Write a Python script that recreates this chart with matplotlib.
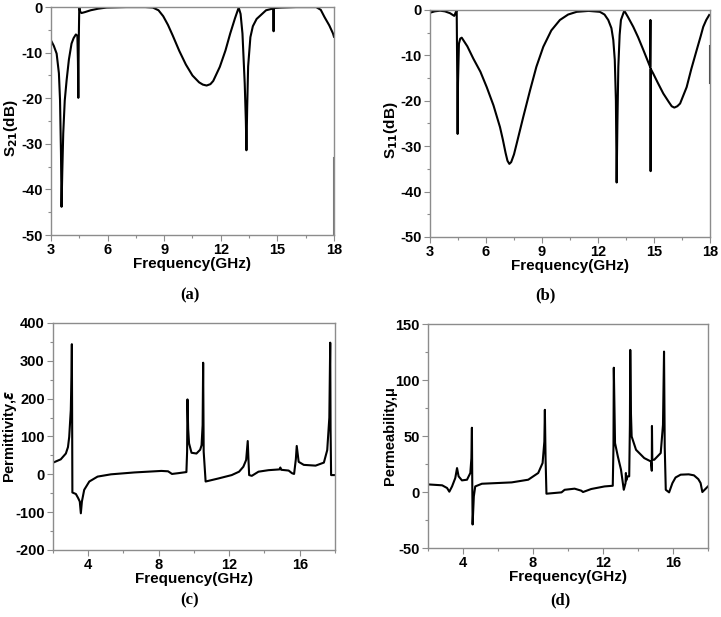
import matplotlib
matplotlib.use("Agg")
import matplotlib.pyplot as plt
from matplotlib.ticker import MultipleLocator

plt.rcParams["font.family"] = ["Liberation Sans", "DejaVu Sans"]
plt.rcParams["font.weight"] = "bold"
plt.rcParams["axes.unicode_minus"] = False

# (a) S21 transmission
a_freq = [3.0, 3.15, 3.3, 3.42, 3.48, 3.53, 3.56, 3.6, 3.65, 3.73, 3.83, 3.95, 4.09, 4.2, 4.32, 4.4,
          4.43, 4.45, 4.47, 4.5, 4.55, 4.62, 4.8, 5.1, 5.5, 5.95, 7.0, 8.0, 8.4, 8.7, 8.95, 9.2, 9.45, 9.8,
          10.15, 10.5, 10.85, 11.05, 11.25, 11.45, 11.6, 11.95, 12.25, 12.5, 12.75, 12.95, 13.05, 13.15,
          13.27, 13.33, 13.36, 13.4, 13.45, 13.57, 13.7, 13.9, 14.4, 14.78, 14.8, 14.82, 15.2, 16.0,
          17.06, 17.3, 17.5, 17.75, 17.95, 18.0]
a_s21 = [-7.3, -8.5, -10.2, -14.5, -20.4, -32.0, -43.8, -36.0, -27.7, -20.5, -16.0, -11.5, -8.0, -6.8,
         -6.0, -6.3, -12.0, -19.9, -8.0, 0.0, -1.0, -1.3, -1.1, -0.7, -0.35, -0.1, 0.0, 0.0, -0.1,
         -0.7, -2.0, -3.9, -6.2, -9.6, -12.6, -15.0, -16.5, -17.0, -17.2, -16.9, -16.2, -13.1, -9.5,
         -5.8, -2.5, -0.1, -1.5, -5.8, -16.8, -25.0, -31.4, -22.0, -13.0, -6.6, -4.2, -2.6, -0.7,
         -0.3, -5.3, -0.2, -0.1, 0.0, 0.0, -0.6, -2.2, -4.0, -5.8, -6.5]
a_edge_freq = [18.0, 18.0]
a_edge_val = [-33.0, -50.0]

# (b) S11 reflection
b_freq = [3.0, 3.25, 3.54, 3.8, 4.07, 4.3, 4.39, 4.43, 4.46, 4.48, 4.5, 4.55, 4.62, 4.7, 5.0, 5.32,
          5.7, 6.04, 6.4, 6.75, 6.9, 7.05, 7.15, 7.25, 7.35, 7.5, 7.64, 8.0, 8.36, 8.7, 9.07, 9.5,
          9.96, 10.4, 10.86, 11.5, 12.1, 12.35, 12.55, 12.72, 12.82, 12.9, 12.96, 13.0, 13.04, 13.09,
          13.16, 13.23, 13.41, 13.6, 13.89, 14.15, 14.43, 14.79, 14.81, 14.82, 14.83, 14.96, 15.2,
          15.5, 15.8, 15.95, 16.09, 16.25, 16.4, 16.75, 17.0, 17.29, 17.5, 17.64, 17.8, 17.96]
b_s11 = [-0.6, -0.3, -0.15, -0.3, -0.7, -1.3, -0.4, 0.0, -15.0, -27.3, -16.0, -7.4, -6.3, -6.1, -8.0,
         -10.7, -13.6, -17.0, -21.0, -25.8, -28.5, -31.5, -33.2, -33.9, -33.5, -31.8, -29.5, -23.5,
         -17.7, -12.5, -8.1, -4.5, -2.2, -1.0, -0.4, -0.2, -0.4, -1.0, -2.2, -4.0, -6.6, -11.0,
         -19.9, -38.0, -25.0, -12.5, -5.5, -2.2, -0.15, -1.5, -3.7, -6.0, -8.8, -12.5, -2.2, -35.5,
         -13.0, -14.0, -16.0, -18.4, -20.3, -21.2, -21.5, -21.2, -20.6, -17.0, -13.0, -8.8, -5.8,
         -3.7, -2.2, -1.1]
b_edge_freq = [18.0, 18.0]
b_edge_val = [-8.0, -16.0]

# (c) effective permittivity
c_freq = [2.0, 2.44, 2.73, 2.85, 2.92, 3.01, 3.05, 3.07, 3.09, 3.1, 3.3, 3.43, 3.52, 3.58, 3.64,
          3.77, 4.06, 4.53, 5.29, 6.62, 8.15, 8.53, 8.75, 9.1, 9.57, 9.61, 9.63, 9.67, 9.72, 9.86,
          10.14, 10.35, 10.43, 10.49, 10.52, 10.55, 10.66, 11.38, 12.14, 12.56, 12.8, 12.96, 13.05,
          13.09, 13.13, 13.28, 13.66, 14.23, 14.85, 14.9, 14.95, 15.37, 15.56, 15.68, 15.78, 15.83,
          15.94, 16.23, 16.9, 17.37, 17.56, 17.68, 17.73, 17.75, 17.78, 18.0]
c_eps = [30.8, 39.6, 55.0, 72.0, 99.0, 170.0, 260.0, 344.0, 100.0, -48.0, -52.0, -63.0, -72.0, -103.0,
         -72.0, -41.0, -19.0, -6.0, 0.0, 5.0, 9.0, 8.0, 1.0, 3.0, 6.0, 60.0, 198.0, 120.0, 82.0,
         57.0, 55.0, 65.0, 77.0, 130.0, 295.0, 60.0, -19.0, -11.0, -2.0, 7.0, 20.0, 38.0, 88.0, 40.0,
         -2.0, -4.0, 7.0, 11.0, 13.0, 18.0, 12.0, 10.0, 3.0, 1.0, 40.0, 75.0, 33.0, 25.0, 23.0,
         31.0, 64.0, 150.0, 348.0, 120.0, -2.0, -2.0]

# (d) effective permeability
d_freq = [2.0, 2.81, 3.09, 3.22, 3.375, 3.56, 3.66, 3.75, 3.94, 4.23, 4.42, 4.48, 4.51, 4.53, 4.55,
          4.62, 4.7, 5.08, 6.78, 7.73, 8.3, 8.55, 8.65, 8.68, 8.72, 8.77, 9.63, 9.81, 10.38, 10.76,
          10.86, 11.33, 12.09, 12.56, 12.6, 12.62, 12.69, 12.85, 13.03, 13.19, 13.29, 13.31, 13.33,
          13.41, 13.5, 13.54, 13.56, 13.6, 13.64, 13.89, 14.36, 14.74, 14.79, 14.8, 14.82, 14.93,
          15.3, 15.43, 15.49, 15.53, 15.59, 15.78, 15.97, 16.15, 16.44, 16.9, 17.2, 17.45, 17.58,
          17.68, 18.0]
d_mu = [6.8, 6.0, 3.6, 0.3, 5.0, 12.5, 21.4, 14.0, 10.4, 11.0, 17.0, 30.0, 57.4, 10.0, -29.0, -3.9,
        5.0, 7.4, 8.6, 11.0, 17.0, 25.9, 45.0, 73.4, 30.0, -1.5, -0.3, 2.0, 3.0, 1.2, 0.0, 2.7, 5.0,
        5.6, 40.0, 111.0, 43.7, 31.8, 20.0, 2.0, 8.0, 17.0, 10.4, 14.0, 14.0, 60.0, 126.9, 70.0,
        49.6, 37.7, 30.3, 27.3, 19.0, 59.0, 28.8, 28.8, 34.8, 60.0, 125.4, 40.0, 2.0, -0.3, 8.0,
        13.0, 15.5, 15.8, 14.9, 11.5, 8.0, 0.0, 5.0]

spine_col = "#8c8c8c"


def style_axes(ax, xmaj, xmin_loc, ymaj, ymin_loc):
    for sp in ax.spines.values():
        sp.set_color(spine_col)
        sp.set_linewidth(1.0)
    ax.xaxis.set_major_locator(MultipleLocator(xmaj))
    ax.xaxis.set_minor_locator(MultipleLocator(xmin_loc))
    ax.yaxis.set_major_locator(MultipleLocator(ymaj))
    ax.yaxis.set_minor_locator(MultipleLocator(ymin_loc))
    ax.tick_params(which="major", direction="out", length=4, width=0.8, color=spine_col,
                   labelsize=10.5, pad=2)
    ax.tick_params(which="minor", direction="out", length=2.5, width=0.8, color=spine_col)
    ax.tick_params(top=False, right=False)
    for lab in ax.get_xticklabels() + ax.get_yticklabels():
        lab.set_fontweight("bold")


fig = plt.figure(figsize=(7.21, 6.17), dpi=100)

ax1 = fig.add_axes([0.0707, 0.619, 0.3925, 0.3695])
ax1.plot(a_freq, a_s21, color="black", lw=1.5)
ax1.plot(a_edge_freq, a_edge_val, color="#777777", lw=1.5)
ax1.set_xlim(3, 18)
ax1.set_ylim(-50, 0)
style_axes(ax1, 3, 1.5, 10, 5)
ax1.set_xlabel("Frequency(GHz)", fontsize=11, fontweight="bold", labelpad=0)
ax1.set_ylabel("S$_{\\mathbf{21}}$(dB)", fontsize=11, fontweight="bold")
ax1.yaxis.set_label_coords(-0.11, 0.47)

ax2 = fig.add_axes([0.5964, 0.6159, 0.3883, 0.3679])
ax2.plot(b_freq, b_s11, color="black", lw=1.5)
ax2.plot(b_edge_freq, b_edge_val, color="#444444", lw=1.5)
ax2.set_xlim(3, 18)
ax2.set_ylim(-50, 0)
style_axes(ax2, 3, 1.5, 10, 5)
ax2.set_xlabel("Frequency(GHz)", fontsize=11, fontweight="bold", labelpad=0)
ax2.set_ylabel("S$_{\\mathbf{11}}$(dB)", fontsize=11, fontweight="bold")
ax2.yaxis.set_label_coords(-0.107, 0.47)

ax3 = fig.add_axes([0.0735, 0.1086, 0.3911, 0.3679])
ax3.plot(c_freq, c_eps, color="black", lw=1.5)
ax3.set_xlim(2, 18)
ax3.set_ylim(-200, 400)
style_axes(ax3, 4, 2, 100, 50)
ax3.set_xlabel("Frequency(GHz)", fontsize=11, fontweight="bold", labelpad=0)
ax3.set_ylabel("Permittivity,$\\varepsilon$", fontsize=10.5, fontweight="bold")
ax3.yaxis.set_label_coords(-0.122, 0.5)

ax4 = fig.add_axes([0.5936, 0.1118, 0.3883, 0.3630])
ax4.plot(d_freq, d_mu, color="black", lw=1.5)
ax4.set_xlim(2, 18)
ax4.set_ylim(-50, 150)
style_axes(ax4, 4, 2, 50, 25)
ax4.set_xlabel("Frequency(GHz)", fontsize=11, fontweight="bold", labelpad=0)
ax4.set_ylabel("Permeability,μ", fontsize=10.5, fontweight="bold")
ax4.yaxis.set_label_coords(-0.111, 0.5)

for txt, x, y in [("(a)", 190, 295), ("(b)", 545, 295), ("(c)", 190, 600), ("(d)", 560, 600)]:
    fig.text(x / 721, 1 - y / 617, txt, ha="center", va="center", fontsize=12,
             fontweight="bold", family="Liberation Serif")

fig.savefig("out.png", dpi=100)
